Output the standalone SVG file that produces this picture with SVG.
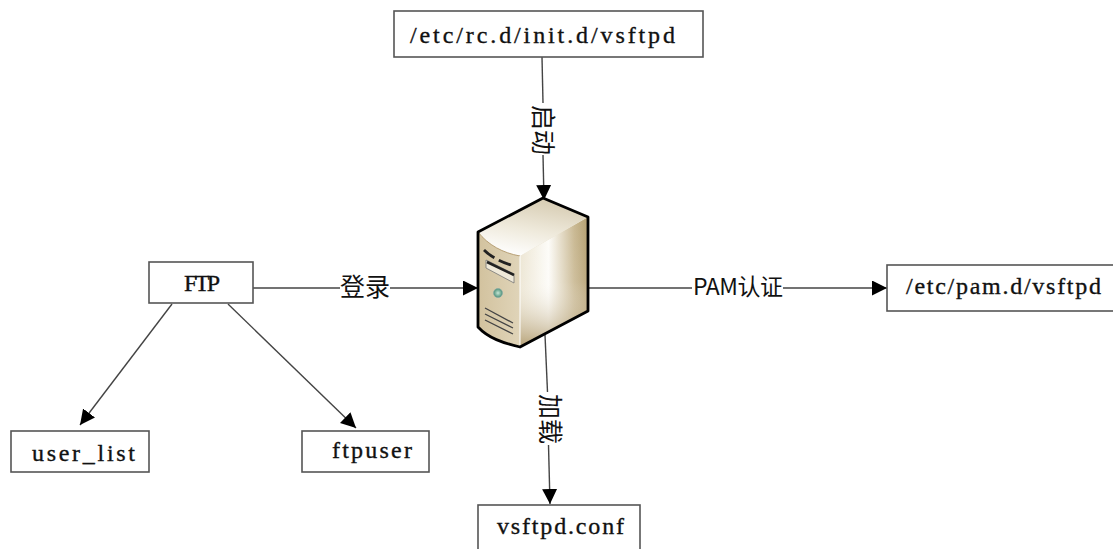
<svg xmlns="http://www.w3.org/2000/svg" width="1113" height="549" viewBox="0 0 1113 549">
<style>
.box{fill:#fff;stroke:#555;stroke-width:1.6}
.t{font-family:"Liberation Serif","Noto Sans CJK SC",serif;font-size:24px;fill:#111;stroke:#111;stroke-width:.35}
.c{font-family:"Noto Sans CJK SC",sans-serif;font-size:25px;fill:#111}
.e{fill:none;stroke:#444;stroke-width:1.4}
</style>
<defs>
<marker id="a" markerUnits="userSpaceOnUse" markerWidth="17" markerHeight="16" refX="15" refY="7.5" orient="auto">
<path d="M0 0L15 7.5L0 15Z" fill="#000"/>
</marker>
<linearGradient id="top" x1=".65" y1="0" x2=".3" y2="1">
<stop offset="0" stop-color="#d5cab0"/><stop offset=".55" stop-color="#efeadc"/><stop offset="1" stop-color="#fff"/>
</linearGradient>
<linearGradient id="right" x1="0" y1="0" x2="1" y2="0">
<stop offset="0" stop-color="#ece5d2"/><stop offset=".42" stop-color="#fdfcf8"/><stop offset=".8" stop-color="#c9b892"/><stop offset="1" stop-color="#b49f70"/>
</linearGradient>
<linearGradient id="shade" x1="0" y1="0" x2="0" y2="1">
<stop offset="0" stop-color="#fff" stop-opacity="0"/><stop offset=".5" stop-color="#fff" stop-opacity=".1"/><stop offset="1" stop-color="#a8905f" stop-opacity=".8"/>
</linearGradient>
<linearGradient id="left" x1="0" y1="0" x2="1" y2="0">
<stop offset="0" stop-color="#d2c29e"/><stop offset=".8" stop-color="#efe8d6"/><stop offset="1" stop-color="#fbf8f0"/>
</linearGradient>
<radialGradient id="led"><stop offset="0" stop-color="#c6e6d6"/><stop offset="1" stop-color="#4b8f76"/></radialGradient>
</defs>
<g id="connectors">
<path class="e" d="M542 57L543 103"/>
<path class="e" d="M543 155L544 200" marker-end="url(#a)"/>
<path class="e" d="M253 288H340"/>
<path class="e" d="M390 288H478" marker-end="url(#a)"/>
<path class="e" d="M588 288H692"/>
<path class="e" d="M783 288H887" marker-end="url(#a)"/>
<path class="e" d="M545 335L547.500 392"/>
<path class="e" d="M548.500 445L550 504" marker-end="url(#a)"/>
<path class="e" d="M172 304L80 425" marker-end="url(#a)"/>
<path class="e" d="M228 304L356 428" marker-end="url(#a)"/>
<text class="c" transform="translate(545 130) rotate(90)" text-anchor="middle" dominant-baseline="central">启动</text>
<text class="c" x="365" y="285" text-anchor="middle" dominant-baseline="central">登录</text>
<text class="c" x="693" y="285" dominant-baseline="central" style="font-size:23px" textLength="90">PAM认证</text>
<text class="c" transform="translate(552 419) rotate(90)" text-anchor="middle" dominant-baseline="central">加载</text>
</g>
<g id="node-init"><rect class="box" x="394" y="11" width="309" height="46"/><text class="t" x="410" y="43" textLength="265">/etc/rc.d/init.d/vsftpd</text></g>
<g id="node-ftp"><rect class="box" x="149" y="262" width="104" height="41"/><text class="t" x="184" y="291" textLength="36">FTP</text></g>
<g id="node-userlist"><rect class="box" x="11" y="431" width="138" height="41"/><text class="t" x="32" y="461" textLength="103">user_list</text></g>
<g id="node-ftpuser"><rect class="box" x="302" y="431" width="127" height="41"/><text class="t" x="332" y="458" textLength="80">ftpuser</text></g>
<g id="node-pam"><rect class="box" x="887" y="265" width="240" height="46"/><text class="t" x="906" y="294" textLength="195">/etc/pam.d/vsftpd</text></g>
<g id="node-conf"><rect class="box" x="478" y="505" width="162" height="60"/><text class="t" x="497" y="534" textLength="127">vsftpd.conf</text></g>
<g id="node-server">
<path d="M478 232L543 198L588 217V311L520 347C503 343 488 338 478 327Z" fill="url(#left)"/>
<path d="M520 256L588 217V311L520 347Z" fill="url(#right)"/>
<path d="M520 256L588 217V311L520 347Z" fill="url(#shade)"/>
<path d="M478 232L543 198L588 217L520 256C503 253 488 245 478 232Z" fill="url(#top)"/>
<path d="M478 232C488 245 503 253 520 256" fill="none" stroke="#b79f74" stroke-width="1"/>
<path d="M520 256V347" stroke="#fff" stroke-width="1" fill="none"/>
<path d="M484 250C492 258 504 263 514 266" fill="none" stroke="#222" stroke-width="2.800" stroke-dasharray="13 5"/>
<path d="M486 260L514 274V283L486 268Z" fill="#efe9d9" stroke="#777" stroke-width=".8"/>
<path d="M487 262L514 275" stroke="#222" stroke-width="2.600" fill="none"/>
<circle cx="498" cy="293" r="4.500" fill="url(#led)" stroke="#8aa" stroke-width=".6"/>
<path d="M485 308L513 323M485 314L513 328M485 320L513 334" stroke="#444" stroke-width="1.300" fill="none"/>
<path d="M478 232L543 198L588 217V311L520 347C503 343 488 338 478 327Z" fill="none" stroke="#000" stroke-width="2.800" stroke-linejoin="round"/>
</g>
</svg>
